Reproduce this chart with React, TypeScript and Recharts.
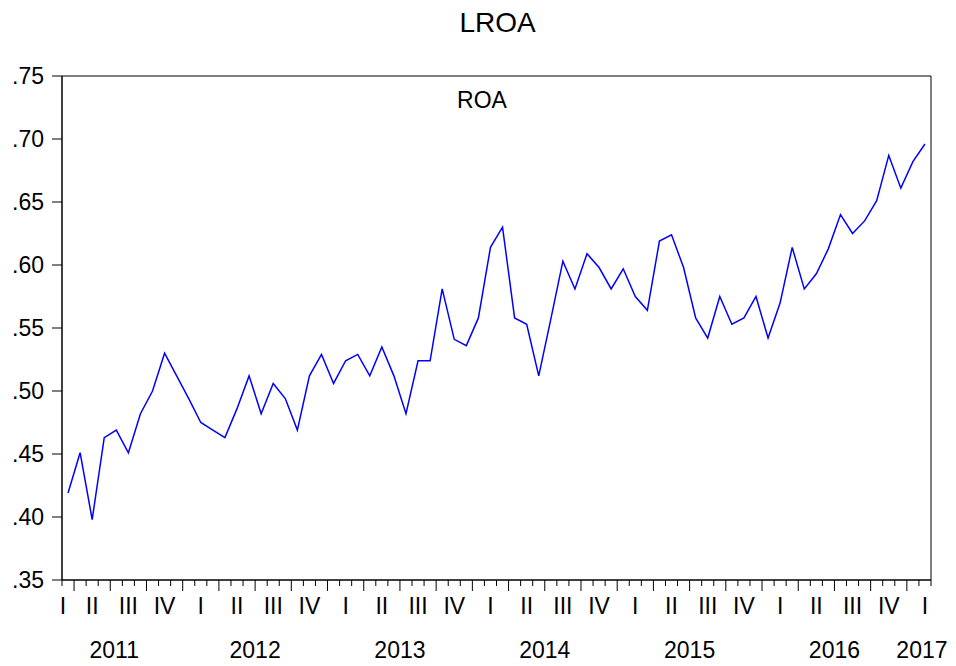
import { LineChart, Line, XAxis, YAxis, ReferenceArea } from 'recharts';

// monthly observations, 2011M02 .. 2017M01
const roa = [
  0.419, 0.451, 0.398, 0.463, 0.469, 0.451, 0.482, 0.5, 0.53, 0.512, 0.494, 0.475,
  0.469, 0.463, 0.486, 0.512, 0.482, 0.506, 0.494, 0.469, 0.512, 0.529, 0.506, 0.524,
  0.529, 0.512, 0.535, 0.512, 0.482, 0.524, 0.524, 0.581, 0.541, 0.536, 0.558, 0.614,
  0.63, 0.558, 0.553, 0.512, 0.557, 0.603, 0.581, 0.609, 0.598, 0.581, 0.597, 0.575,
  0.564, 0.619, 0.624, 0.598, 0.558, 0.542, 0.575, 0.553, 0.558, 0.575, 0.542, 0.57,
  0.614, 0.581, 0.593, 0.613, 0.64, 0.625, 0.635, 0.651, 0.687, 0.661, 0.682, 0.696,
];

const quarterLabels = ['I', 'II', 'III', 'IV'];
const yearLabels = ['2011', '2012', '2013', '2014', '2015', '2016', '2017'];
const yTicks = [0.35, 0.4, 0.45, 0.5, 0.55, 0.6, 0.65, 0.7, 0.75];

const FONT = '"Liberation Sans", Arial, sans-serif';
const LINE_COLOR = '#0000ff';
const TICK_FONT = 23;

const data = roa.map((v, i) => {
  const m = (i + 1) % 12;
  const y = 2011 + Math.floor((i + 1) / 12);
  return { t: i, period: `${y}M${String(m + 1).padStart(2, '0')}`, roa: v };
});

// month boundaries on the numeric axis
const boundaries = Array.from({ length: roa.length + 1 }, (_, k) => k - 0.5);
const SLOT = 869 / roa.length;

function MonthTick(props: any) {
  const { x, y, index } = props;
  const k = index;
  const tall = k % 3 === 1;
  const parts = [];
  parts.push(<line key="l" x1={x} y1={y} x2={x} y2={y + (tall ? 11 : 6)} stroke="#000" strokeWidth={1} />);

  let q: string | null = null;
  let qx = x + SLOT / 2;
  if (k === 0) {
    q = quarterLabels[0];
    qx = x + 1;
  } else if (k % 3 === 2) {
    q = quarterLabels[((k + 1) / 3) % 4];
  }
  if (q) {
    parts.push(
      <text key="q" x={qx} y={y + 33.5} textAnchor="middle" fontSize={TICK_FONT} fontFamily={FONT} fill="#000">
        {q}
      </text>
    );
  }

  let yr: string | null = null;
  let yx = x;
  if (k % 12 === 4 && (k - 4) / 12 < yearLabels.length - 1) {
    yr = yearLabels[(k - 4) / 12];
    if (k === 4) yx = x + 4;
  } else if (k === roa.length - 1) {
    yr = yearLabels[yearLabels.length - 1];
    yx = x + 3;
  }
  if (yr) {
    parts.push(
      <text key="y" x={yx} y={y + 78.3} textAnchor="middle" fontSize={TICK_FONT} fontFamily={FONT} fill="#000">
        {yr}
      </text>
    );
  }
  return <g>{parts}</g>;
}

function SeriesName() {
  return (
    <div
      style={{
        position: 'absolute',
        left: 482,
        top: 88.8,
        transform: 'translateX(-50%)',
        fontFamily: FONT,
        fontSize: 23,
        lineHeight: '23px',
        color: '#000',
        whiteSpace: 'nowrap',
      }}
    >
      ROA
    </div>
  );
}

export default function App() {
  return (
    <div style={{ position: 'absolute', left: 0, top: 0, width: 956, height: 666, background: '#fff' }}>
      <LineChart width={956} height={666} data={data} margin={{ top: 76, right: 25, bottom: 0, left: 0 }}>
        <XAxis
          xAxisId="main"
          dataKey="t"
          type="number"
          domain={[-0.5, roa.length - 0.5]}
          ticks={boundaries}
          interval={0}
          height={86}
          tickSize={0}
          tickMargin={0}
          tickLine={false}
          axisLine={{ stroke: '#000', strokeWidth: 1 }}
          tick={<MonthTick />}
        />
        <YAxis
          yAxisId="main"
          type="number"
          domain={[0.35, 0.75]}
          ticks={yTicks}
          interval={0}
          width={62}
          tickSize={10}
          tickMargin={8}
          tickLine={{ stroke: '#000' }}
          axisLine={{ stroke: '#000', strokeWidth: 1 }}
          tick={{ fontSize: TICK_FONT, fontFamily: FONT, fill: '#000' }}
          tickFormatter={(v: number) => v.toFixed(2).replace(/^0/, '')}
        />
        <ReferenceArea
          xAxisId="main"
          yAxisId="main"
          x1={-0.5}
          x2={roa.length - 0.5}
          y1={0.35}
          y2={0.75}
          fill="none"
          fillOpacity={0}
          stroke="#000"
          strokeWidth={1}
          ifOverflow="visible"
        />
        <Line
          xAxisId="main"
          yAxisId="main"
          type="linear"
          dataKey="roa"
          name="ROA"
          stroke={LINE_COLOR}
          strokeWidth={1.5}
          dot={false}
          activeDot={false}
          isAnimationActive={false}
        />
      </LineChart>
      <div
        style={{
          position: 'absolute',
          left: 497.5,
          top: 8.6,
          transform: 'translateX(-50%)',
          fontFamily: FONT,
          fontSize: 28,
          lineHeight: '28px',
          color: '#000',
          whiteSpace: 'nowrap',
        }}
      >
        LROA
      </div>
      <SeriesName />
    </div>
  );
}
